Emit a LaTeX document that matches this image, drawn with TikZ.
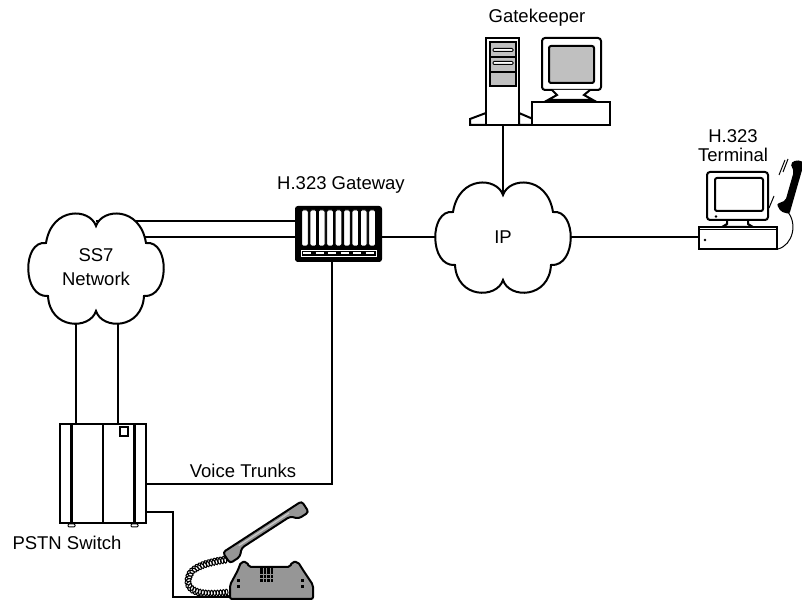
\documentclass[tikz,border=0pt]{standalone}
\usepackage{fontspec}
\setmainfont{Liberation Sans}
\usetikzlibrary{backgrounds,decorations.pathmorphing}
\definecolor{panelGray}{RGB}{192,192,192}
\definecolor{phoneGray}{RGB}{150,150,150}

\tikzset{
  wire/.style={line width=2pt},
  dev/.style={draw, line width=2pt, fill=white, inner sep=0pt},
  lbl/.style={font=\fontsize{18.5}{22}\selectfont, inner sep=0pt},
}

% cloud outline centred at #1
\newcommand{\netcloud}[1]{%
  \draw[wire, fill=white, shift={#1}]
    (0,42) .. controls (-6,60) and (-44,62) .. (-50,25)
    .. controls (-74,28) and (-74,-30) .. (-48,-28)
    .. controls (-46,-62) and (-6,-62) .. (0,-43)
    .. controls (6,-62) and (46,-62) .. (48,-28)
    .. controls (74,-30) and (74,28) .. (50,25)
    .. controls (44,62) and (6,60) .. (0,42) -- cycle;}

\begin{document}
\begin{tikzpicture}[x=1pt, y=1pt]
  \useasboundingbox (0,0) rectangle (802,601);

  % Clouds
  \netcloud{(96,333)}
  \node[lbl, align=center, font=\fontsize{18.5}{24}\selectfont]
    (ss7) at (96,334) {SS7\\Network};
  \netcloud{(503,364)}
  \node[lbl] (ip) at (503,364) {IP};

  % H.323 gateway
  \node[dev, fill=black, rounded corners=2,
        minimum width=85, minimum height=54] (gw) at (338.5,367) {};
  \foreach \k in {0,...,8}
    \draw[line width=0.8pt, fill=white, rounded corners=1.5]
      (301.6+8.4*\k,391) rectangle ++(6.6,-36);
  \draw[white, line width=0.8pt] (301,351) rectangle (376,344.5);
  \draw[white, line width=1.4pt, dash pattern=on 8pt off 4.5pt]
    (303,347.8) -- (375,347.8);
  \node[lbl] (gw-label) at (341,416) {H.323 Gateway};

  % Gatekeeper: tower, monitor, desk unit
  \draw[wire, fill=white] (470,476) -- (470,482) -- (486,488) -- (486,476) -- cycle;
  \draw[wire, fill=white] (519,476) -- (519,488) -- (533,482) -- (533,476) -- cycle;
  \node[dev, minimum width=33, minimum height=87] (gk) at (502.5,519.5) {};
  \draw[wire, fill=panelGray] (490,559) rectangle (516,515);
  \draw[wire] (490,544) -- (516,544);
  \draw[wire] (490,529) -- (516,529);
  \draw[line width=1pt, fill=white, rounded corners=1] (493,549.5) rectangle (513,552.5);
  \draw[line width=1pt, fill=white, rounded corners=1] (493,536.5) rectangle (513,539.5);
  \draw[dev, rounded corners=3] (542,563) rectangle (601,511);
  \draw[wire, fill=panelGray, rounded corners=2] (549,555) rectangle (594,518);
  \draw[dev] (552,511) -- (557,506) -- (548,501) -- (593,501) -- (584,506) -- (590,511);
  \draw[dev] (532,499) rectangle (610,476);
  \node[lbl] (gk-label) at (537,583) {Gatekeeper};

  % H.323 terminal
  \node[dev, minimum width=78, minimum height=22] (term) at (738,363) {};
  \draw[line width=1pt] ([yshift=-4]term.north west) -- ([yshift=-4]term.north east);
  \fill (705,361) circle (1.3);
  \draw[dev] (727,381) -- (727,377) -- (722,374) -- (753,374) -- (748,377) -- (748,381);
  \draw[dev, rounded corners=3] (707,429) rectangle (768,381);
  \draw[wire, rounded corners=2] (715,423) rectangle (763,390);
  \fill (716,384.5) circle (1.3);
  \node[lbl, align=center, font=\fontsize{18.5}{19}\selectfont]
    (term-label) at (733,455) {H.323\\Terminal};
  % handset beside the terminal
  \draw[line width=1pt] (787,390) .. controls (798,378) and (793,356) .. ([yshift=1]term.south east);
  \begin{scope}[shift={(793,414)}, rotate=74]
    \fill[rounded corners=2] (-27,-4) -- (27,-4) -- (27,4) -- (22,9) -- (15,3.5)
      -- (-15,3.5) -- (-21,11) -- (-27,5) -- cycle;
  \end{scope}
  \draw[line width=1pt] (779,426) -- (785,441);
  \draw[line width=1pt] (783,429) -- (788,442);
  \draw[line width=1pt] (769,393) -- (774,405);

  % PSTN switch
  \node[dev, minimum width=86, minimum height=99] (sw) at (103,127.5) {};
  \draw[line width=3pt] (71.5,177) -- (71.5,78);
  \draw[wire] (103,177) -- (103,78);
  \draw[line width=3pt] (134.5,177) -- (134.5,78);
  \draw[line width=1.2pt, fill=white] (120,174) rectangle (128,165);
  \draw[line width=1pt, rounded corners=1] (68,77) rectangle (75,74);
  \draw[line width=1pt, rounded corners=1] (131,77) rectangle (138,74);
  \node[lbl] (sw-label) at (67,58) {PSTN Switch};
  \node[lbl] (trunk-label) at (243,130) {Voice Trunks};

  % Telephone set
  \coordinate (drop) at (173,4);
  \coordinate (base) at (230,4);
  \draw[line width=1pt, decorate,
        decoration={coil, amplitude=3.5pt, segment length=3pt, aspect=0.6}]
    (231,9) .. controls (200,4) and (184,10) .. (190,26)
    .. controls (195,36) and (215,40) .. (231,42);
  \draw[wire, fill=phoneGray, rounded corners=2]
    (230,2) -- (230,16) -- (238,31) -- (241,39) -- (247,39) -- (249,34)
    -- (290,34) -- (292,39) -- (298,39) -- (303,31) -- (313,16) -- (313,2) -- cycle;
  \foreach \i in {0,...,3}
    \foreach \j in {0,...,3}
      \fill (260+3.5*\i,19+3.8*\j) rectangle ++(2.6,2.9);
  \foreach \j in {0,1} {
    \fill (236.5,13+6*\j) rectangle ++(3,3);
    \fill (300.5,13+6*\j) rectangle ++(3,3);
  }
  \begin{scope}[shift={(265,70)}, rotate=33]
    \draw[wire, fill=phoneGray, rounded corners=3]
      (-47,5) -- (47,5) -- (47,-8) -- (35,-8) -- (29,-1.5)
      -- (-29,-1.5) -- (-35,-8) -- (-47,-8) -- cycle;
    \draw[white!80!black, line width=1.2pt] (-30,2) -- (30,2);
  \end{scope}

  % Links
  \begin{scope}[on background layer]
    \draw[wire] ([yshift=13]gw.west) -- ([yshift=13]gw.west -| ss7.center);
    \draw[wire] ([yshift=-3]gw.west) -- ([yshift=-3]gw.west -| ss7.center);
    \draw[wire] (gw.east |- ip.center) -- (ip.center);
    \draw[wire] (ip.center) -- (ip.center -| term.west);
    \draw[wire] (gk.south) -- (gk.south |- ip.center);
    \draw[wire] ([xshift=-27]sw.north) -- ([xshift=-27]sw.north |- ss7.center);
    \draw[wire] ([xshift=15]sw.north) -- ([xshift=15]sw.north |- ss7.center);
    \draw[wire] ([yshift=-10.5]sw.east) -| ([xshift=-6.5]gw.south);
    \draw[wire] ([yshift=-38.5]sw.east) -| (drop) -- (base);
  \end{scope}
\end{tikzpicture}
\end{document}
